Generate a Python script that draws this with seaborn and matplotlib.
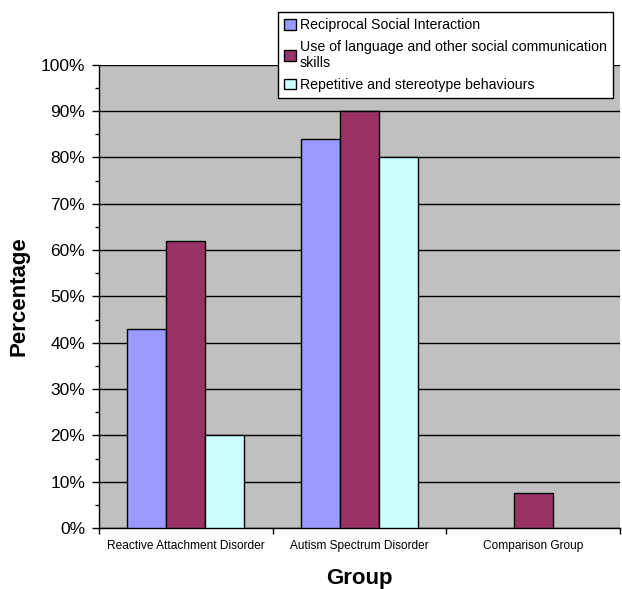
import matplotlib
matplotlib.use("Agg")
import matplotlib.pyplot as plt
import seaborn as sns
import pandas as pd
from matplotlib.ticker import MultipleLocator, FixedLocator, PercentFormatter

groups = ["Reactive Attachment Disorder", "Autism Spectrum Disorder", "Comparison Group"]
series = ["Reciprocal Social Interaction",
          "Use of language and other social communication\nskills",
          "Repetitive and stereotype behaviours"]
reciprocal = [43, 84, 0]
language = [62, 90, 7.5]
repetitive = [20, 80, 0]
colors = ["#9999FF", "#993366", "#CCFFFF"]

rows = []
for s, vals in zip(series, [reciprocal, language, repetitive]):
    for g, v in zip(groups, vals):
        rows.append({"Group": g, "Series": s, "Value": v})
df = pd.DataFrame(rows)

sns.set_style("white")
plt.rcParams["font.family"] = ["Liberation Sans", "DejaVu Sans"]
plt.rcParams["text.color"] = "black"
plt.rcParams["axes.labelcolor"] = "black"
plt.rcParams["xtick.color"] = "black"
plt.rcParams["ytick.color"] = "black"

fig = plt.figure(figsize=(6.22, 5.89), dpi=100)
ax = fig.add_axes([0.159, 0.1036, 0.8376, 0.7864])
ax.set_facecolor("#C0C0C0")

sns.barplot(data=df, x="Group", y="Value", hue="Series", order=groups,
            hue_order=series, palette=colors, width=0.675, saturation=1,
            edgecolor="black", linewidth=1, ax=ax, legend=True, zorder=3)

for p in ax.patches:
    if p.get_height() == 0:
        p.set_linewidth(0)

ax.set_xlim(-0.5, 2.5)
ax.set_ylim(0, 100)
ax.yaxis.set_major_locator(MultipleLocator(10))
ax.yaxis.set_minor_locator(MultipleLocator(5))
ax.yaxis.set_major_formatter(PercentFormatter(decimals=0))
ax.grid(axis="y", which="major", color="black", linewidth=1, zorder=1)
ax.set_axisbelow(True)

ax.xaxis.set_major_locator(FixedLocator([-0.5, 0.5, 1.5, 2.5]))
ax.xaxis.set_minor_locator(FixedLocator([0, 1, 2]))
ax.set_xticklabels(["", "", "", ""])
ax.set_xticklabels(groups, minor=True, fontsize=8.6)
ax.tick_params(axis="x", which="major", direction="out", length=4, width=1, color="black", bottom=True)
ax.tick_params(axis="x", which="minor", length=0, pad=9, bottom=True)
ax.tick_params(axis="y", which="major", direction="out", length=5, width=1, color="black", labelsize=12.5, left=True, pad=5)
ax.tick_params(axis="y", which="minor", direction="out", length=3, width=1, color="black", left=True)

for side in ["top", "right"]:
    ax.spines[side].set_visible(False)
for side in ["left", "bottom"]:
    ax.spines[side].set_color("black")
    ax.spines[side].set_linewidth(1)

ax.set_xlabel("Group", fontsize=16, fontweight="bold", labelpad=11)
ax.set_ylabel("Percentage", fontsize=16, fontweight="bold", labelpad=8)

leg = ax.legend(loc="upper right", bbox_to_anchor=(0.986, 0.98),
                bbox_transform=fig.transFigure, fontsize=10.2, frameon=True,
                fancybox=False, framealpha=1, edgecolor="black",
                handlelength=0.8, handleheight=0.8, handletextpad=0.3,
                borderaxespad=0, labelspacing=0.55, borderpad=0.45)
leg.get_frame().set_linewidth(1)
for h in leg.legend_handles:
    h.set_edgecolor("black")
    h.set_linewidth(1)
leg.set_zorder(10)

fig.savefig("out.png", dpi=100)
